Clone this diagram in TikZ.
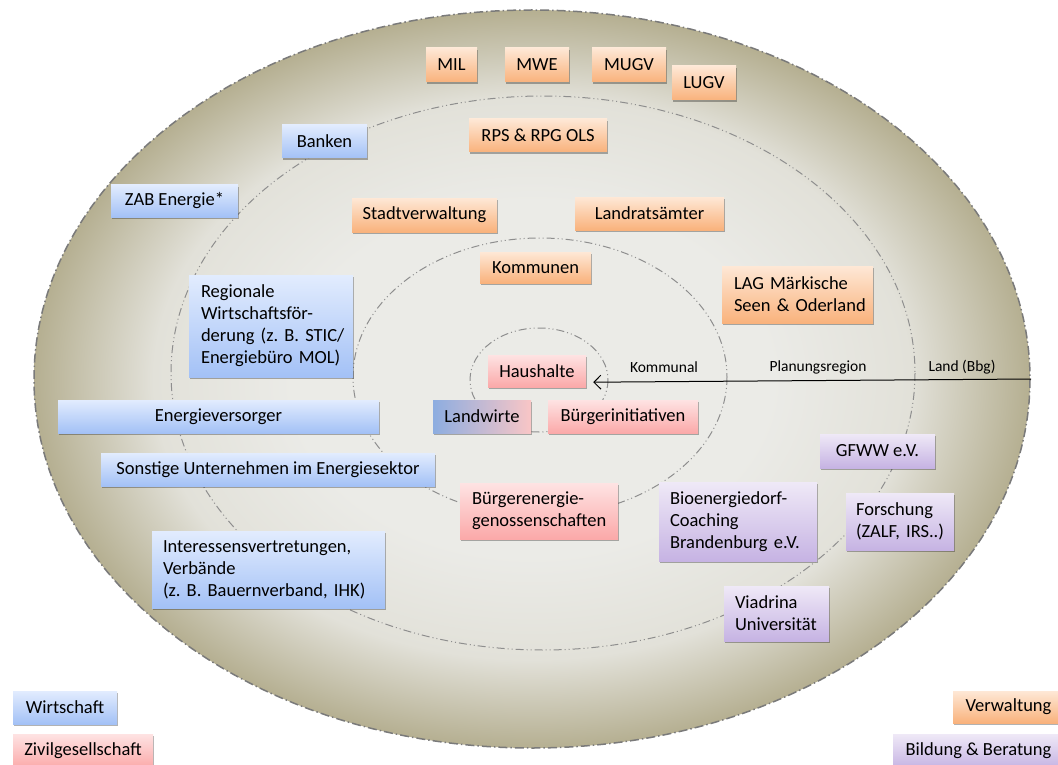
\documentclass[tikz,border=0pt]{standalone}
\usepackage{fontspec}
\setmainfont{Carlito}
\usetikzlibrary{shadows,arrows.meta}
\definecolor{ringin}{HTML}{EBEBE7}
\definecolor{ringmid}{HTML}{E2E1D9}
\definecolor{ringout}{HTML}{B5AF91}
\definecolor{vtop}{HTML}{FEE8D6}
\definecolor{vbot}{HTML}{F9B27C}
\definecolor{wtop}{HTML}{E2ECFE}
\definecolor{wbot}{HTML}{A3C1F6}
\definecolor{ztop}{HTML}{FEE3E3}
\definecolor{zbot}{HTML}{FBA9A9}
\definecolor{btop}{HTML}{EFE9F7}
\definecolor{bbot}{HTML}{C6B3E3}
\definecolor{lwblue}{HTML}{8DADE0}
\definecolor{lwpink}{HTML}{F9C6C6}
\definecolor{ringline}{HTML}{7A7A7A}
\definecolor{innerline}{HTML}{8E8E8E}
\pgfdeclareradialshading{ringshade}{\pgfpoint{0bp}{0bp}}{color(0bp)=(ringin); color(12bp)=(ringin); color(19bp)=(ringmid); color(25bp)=(ringout); color(50bp)=(ringout)}
\tikzset{
  box/.style={inner sep=0pt, font=\fontsize{18.5}{22}\selectfont\frenchspacing,
    drop shadow={shadow xshift=1.2pt, shadow yshift=-2.4pt, opacity=0.3, fill=black}},
  vbox/.style={box, top color=vtop, bottom color=vbot},
  wbox/.style={box, top color=wtop, bottom color=wbot},
  zbox/.style={box, top color=ztop, bottom color=zbot},
  bbox/.style={box, top color=btop, bottom color=bbot},
  lbl/.style={font=\fontsize{15.5}{18}\selectfont, inner sep=1pt},
  outerring/.style={draw=ringline, line width=1.5pt, dash pattern=on 9pt off 3pt on 1.5pt off 3pt},
  innerring/.style={draw=innerline, line width=1pt, dash pattern=on 8pt off 3pt on 1pt off 3pt on 1pt off 3pt},
  arr/.style={-{Straight Barb[length=7pt,width=14pt]}, line width=1pt, black}
}
\newcommand\bx[8][]{\node[#2, minimum width={(#6-#4)*1pt}, minimum height={(#7-#5)*1pt}, #1] (#3) at ({(#4+#6)/2},{(#5+#7)/2}) {#8};}
\newcommand\ml[1]{\mbox{#1}}
\begin{document}
\frenchspacing
\begin{tikzpicture}[x=1pt,y=-1pt]
\useasboundingbox (0,0) rectangle (1058,765);
% rings
\shade[shading=ringshade] (532,379) ellipse [x radius=498, y radius=369];
\draw[outerring] (532,379) ellipse [x radius=498, y radius=369];
\draw[innerring] (543,373) ellipse [x radius=372, y radius=277];
\draw[innerring] (540,377) ellipse [x radius=187, y radius=139];
\draw[innerring] (539,380) ellipse [x radius=69, y radius=52];
% Verwaltung
\bx{vbox}{mil}{426}{48}{477}{82}{MIL}
\bx{vbox}{mwe}{505}{48}{569}{82}{MWE}
\bx{vbox}{mugv}{592}{48}{666}{82}{MUGV}
\bx{vbox}{lugv}{672}{66}{736}{100}{LUGV}
\bx{vbox}{rps}{469}{119}{607}{152}{RPS \& RPG OLS}
\bx{vbox}{stadt}{352}{198}{497}{232}{Stadtverwaltung}
\bx{vbox}{lra}{575}{197}{724}{230}{Landratsämter}
\bx{vbox}{komm}{480}{252}{591}{283}{Kommunen}
\bx[text width=127pt, align=left, inner xsep=12pt]{vbox}{lag}{722}{266}{873}{323}{\ml{LAG Märkische}\\\ml{Seen \& Oderland}}
\bx{vbox}{legv}{953}{691}{1064}{723}{Verwaltung}
% Wirtschaft
\bx{wbox}{banken}{282}{125}{367}{158}{Banken}
\bx{wbox}{zab}{111}{185}{238}{217}{ZAB Energie*}
\bx[text width=140pt, align=left, inner xsep=12pt]{wbox}{rwf}{189}{275}{353}{377}{\ml{Regionale}\\\ml{Wirtschaftsför-}\\\ml{derung (z. B. STIC/}\\\ml{Energiebüro MOL)}}
\bx{wbox}{ev}{58}{400}{379}{433}{Energieversorger}
\bx{wbox}{sonst}{101}{453}{435}{486}{Sonstige Unternehmen im Energiesektor}
\bx[text width=211pt, align=left, inner xsep=11pt]{wbox}{iv}{152}{531}{385}{608}{\ml{Interessensvertretungen,}\\\ml{Verbände}\\\ml{(z. B. Bauernverband, IHK)}}
\bx{wbox}{legw}{13}{691}{117}{724}{Wirtschaft}
% Zivilgesellschaft
\bx{zbox}{hh}{488}{355}{586}{387}{Haushalte}
\bx[left color=lwblue, right color=lwpink]{box}{lw}{433}{400}{531}{433}{Landwirte}
\bx{zbox}{bi}{548}{400}{698}{433}{Bürgerinitiativen}
\bx[text width=134pt, align=left, inner xsep=12pt]{zbox}{beg}{460}{483}{618}{539}{\ml{Bürgerenergie-}\\\ml{genossenschaften}}
\bx{zbox}{legz}{13}{734}{153}{768}{Zivilgesellschaft}
% Bildung & Beratung
\bx{bbox}{gfww}{820}{434}{935}{468}{GFWW e.V.}
\bx[text width=136pt, align=left, inner xsep=11pt]{bbox}{bio}{659}{482}{817}{561}{\ml{Bioenergiedorf-}\\\ml{Coaching}\\\ml{Brandenburg e.V.}}
\bx[text width=88pt, align=left, inner xsep=10pt]{bbox}{fo}{846}{493}{954}{550}{\ml{Forschung}\\\ml{(ZALF, IRS..)}}
\bx[text width=83pt, align=left, inner xsep=11pt]{bbox}{via}{724}{586}{829}{641}{\ml{Viadrina}\\\ml{Universität}}
\bx{bbox}{legb}{893}{734}{1064}{768}{Bildung \& Beratung}
% level labels and arrow
\node[lbl] (lk) at (664,367) {Kommunal};
\node[lbl] (lp) at (818,367) {Planungsregion};
\node[lbl] (ll) at (962,367) {Land (Bbg)};
\coordinate (astart) at (1031,379);
\draw[arr] (astart) -- ([xshift=7pt,yshift=5pt]hh.south east);
\end{tikzpicture}
\end{document}
